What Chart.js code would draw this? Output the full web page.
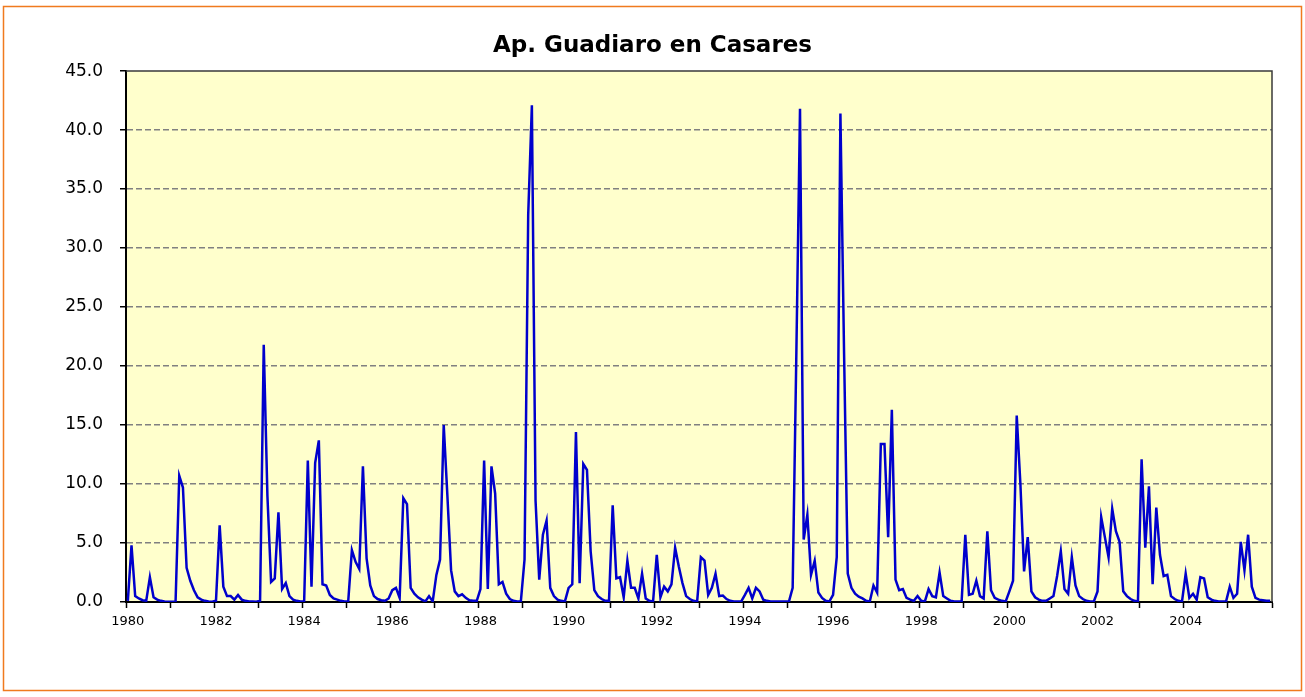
<!DOCTYPE html>
<html>
<head>
<meta charset="utf-8">
<script src="https://cdn.jsdelivr.net/npm/chart.js@4/dist/chart.umd.min.js"></script>
<style>
  html, body { margin: 0; padding: 0; background: #fff; }
  canvas { display: block; }
</style>
</head>
<body>
<canvas id="flowChart" width="1305" height="697"></canvas>
<script>
const chartTitle = 'Ap. Guadiaro en Casares';
const startYear = 1980;
const yearCount = 26;
const yTicks = [0, 5, 10, 15, 20, 25, 30, 35, 40, 45];

// monthly values, one row per year
const flows1980s = [
    0.1, 4.8, 0.5, 0.3, 0.15, 0.1, 2.1, 0.4, 0.2, 0.1, 0.05, 0.02,
    0.02, 0.05, 10.7, 9.7, 2.9, 1.8, 1.0, 0.4, 0.2, 0.1, 0.05, 0.02,
    0.1, 6.5, 1.3, 0.5, 0.5, 0.2, 0.6, 0.2, 0.1, 0.05, 0.05, 0.02,
    0.1, 21.8, 9.0, 1.7, 2.0, 7.6, 1.1, 1.6, 0.5, 0.2, 0.1, 0.05,
    0.05, 12.0, 1.3, 11.8, 13.7, 1.5, 1.4, 0.6, 0.3, 0.2, 0.1, 0.05,
    0.05, 4.4, 3.4, 2.8, 11.5, 3.7, 1.4, 0.5, 0.25, 0.15, 0.1, 0.3,
    1.0, 1.2, 0.35, 8.8, 8.3, 1.2, 0.7, 0.4, 0.2, 0.05, 0.5, 0.05,
    2.3, 3.6, 15.0, 9.0, 2.7, 0.9, 0.5, 0.65, 0.35, 0.15, 0.1, 0.1,
    1.1, 12.0, 1.1, 11.5, 9.2, 1.5, 1.7, 0.7, 0.25, 0.1, 0.05, 0.05,
    3.6, 32.8, 42.1, 8.6, 1.9, 5.7, 6.9, 1.2, 0.5, 0.2, 0.1, 0.05,
];
const flows1990s = [
    1.2, 1.5, 14.4, 1.6, 11.7, 11.2, 4.3, 1.0, 0.5, 0.25, 0.1, 0.1,
    8.2, 2.0, 2.1, 0.4, 3.5, 1.2, 1.2, 0.3, 2.4, 0.3, 0.1, 0.05,
    4.0, 0.4, 1.3, 0.9, 1.5, 4.6, 3.0, 1.6, 0.5, 0.25, 0.1, 0.05,
    3.8, 3.5, 0.6, 1.2, 2.4, 0.5, 0.55, 0.25, 0.1, 0.05, 0.05, 0.05,
    0.6, 1.2, 0.3, 1.2, 0.9, 0.2, 0.1, 0.05, 0.05, 0.05, 0.05, 0.05,
    0.05, 1.2, 21.0, 41.8, 5.3, 7.4, 2.3, 3.5, 0.8, 0.35, 0.1, 0.05,
    0.6, 3.8, 41.4, 21.0, 2.4, 1.2, 0.7, 0.45, 0.3, 0.1, 0.05, 1.4,
    0.8, 13.4, 13.4, 5.5, 16.3, 1.9, 1.0, 1.1, 0.35, 0.2, 0.1, 0.5,
    0.1, 0.05, 1.1, 0.5, 0.4, 2.5, 0.5, 0.3, 0.1, 0.05, 0.05, 0.05,
    5.7, 0.6, 0.7, 1.8, 0.5, 0.3, 6.0, 1.0, 0.35, 0.2, 0.1, 0.05,
];
const flows2000s = [
    0.9, 1.8, 15.8, 10.0, 2.6, 5.5, 0.9, 0.4, 0.2, 0.1, 0.1, 0.3,
    0.5, 2.2, 4.3, 1.1, 0.7, 3.8, 1.4, 0.5, 0.25, 0.1, 0.05, 0.05,
    0.9, 7.2, 5.5, 3.8, 7.9, 6.0, 5.1, 0.9, 0.5, 0.25, 0.1, 0.05,
    12.1, 4.6, 9.8, 1.5, 8.0, 4.0, 2.2, 2.3, 0.5, 0.25, 0.1, 0.05,
    2.4, 0.35, 0.7, 0.2, 2.1, 2.0, 0.4, 0.2, 0.1, 0.05, 0.05, 0.05,
    1.3, 0.35, 0.7, 5.1, 2.7, 5.7, 1.3, 0.35, 0.2, 0.15, 0.1, 0.1,
];

const flows = [...flows1980s, ...flows1990s, ...flows2000s];

const months = [];
for (let y = 0; y < yearCount; y++) {
    for (let m = 1; m <= 12; m++) {
        months.push((startYear + y) + '-' + String(m).padStart(2, '0'));
    }
}

const fontFace = '"DejaVu Sans", Verdana, sans-serif';

// white page, orange outer frame, pale yellow plot area
const framePlugin = {
    id: 'frame',
    beforeDraw(chart) {
        const { ctx, chartArea: a } = chart;
        ctx.save();
        ctx.fillStyle = '#FFFFFF';
        ctx.fillRect(0, 0, chart.width, chart.height);
        ctx.strokeStyle = '#F07A1E';
        ctx.lineWidth = 1.5;
        ctx.strokeRect(3.5, 6.5, 1298, 684);
        ctx.fillStyle = '#FFFFCC';
        ctx.fillRect(a.left, a.top, a.right - a.left, a.bottom - a.top);
        ctx.restore();
    },
    afterDraw(chart) {
        const { ctx, chartArea: a } = chart;
        ctx.save();
        ctx.strokeStyle = '#3A3A3A';
        ctx.lineWidth = 1.5;
        ctx.beginPath();
        ctx.moveTo(a.left, a.top);
        ctx.lineTo(a.right, a.top);
        ctx.lineTo(a.right, a.bottom);
        ctx.stroke();
        ctx.restore();
    },
};

new Chart(document.getElementById('flowChart'), {
    type: 'line',
    data: {
        labels: months,
        datasets: [{
            data: flows,
            borderColor: '#0000CC',
            backgroundColor: 'transparent',
            borderWidth: 2.5,
            pointRadius: 0,
            tension: 0,
        }],
    },
    options: {
        responsive: false,
        animation: false,
        layout: { padding: 0 },
        plugins: {
            legend: { display: false },
            tooltip: { enabled: false },
            title: {
                display: true,
                text: chartTitle,
                color: '#000',
                font: { family: fontFace, size: 23, weight: 'bold' },
                padding: { top: 32, bottom: 11.5 },
            },
        },
        scales: {
            x: {
                type: 'category',
                offset: true,
                afterFit: (scale) => { scale.height = 95; },
                grid: {
                    offset: true,
                    drawOnChartArea: false,
                    tickLength: 6,
                    tickWidth: 1.5,
                    tickColor: (ctx) => (ctx.index === undefined || ctx.index % 12 === 0 ? '#000' : 'rgba(0,0,0,0)'),
                },
                border: { display: true, color: '#000', width: 2 },
                ticks: {
                    autoSkip: false,
                    maxRotation: 0,
                    minRotation: 0,
                    padding: 6,
                    color: '#000',
                    font: { family: fontFace, size: 13 },
                    callback: (value, index) => (index % 24 === 0 ? months[index].slice(0, 4) : ''),
                },
            },
            y: {
                min: yTicks[0],
                max: yTicks[yTicks.length - 1],
                afterFit: (scale) => { scale.width = 126; },
                afterBuildTicks: (scale) => { scale.ticks = yTicks.map((v) => ({ value: v })); },
                grid: {
                    color: (ctx) => (ctx.tick && (ctx.tick.value === 0 || ctx.tick.value === 45) ? 'rgba(0,0,0,0)' : '#808080'),
                    lineWidth: 1.5,
                    tickLength: 6,
                    tickColor: '#000',
                    tickWidth: 1.5,
                    tickBorderDash: [],
                },
                border: { display: true, color: '#000', width: 2, dash: [6, 3] },
                ticks: {
                    padding: 17,
                    color: '#000',
                    font: { family: fontFace, size: 17 },
                    callback: (v) => Number(v).toFixed(1),
                },
            },
            // empty right-hand strip so the title centres on the whole page
            yRight: {
                position: 'right',
                min: 0,
                max: 45,
                afterFit: (scale) => { scale.width = 33; },
                grid: { display: false },
                border: { display: false },
                ticks: { display: false },
            },
        },
    },
    plugins: [framePlugin],
});
</script>
</body>
</html>
